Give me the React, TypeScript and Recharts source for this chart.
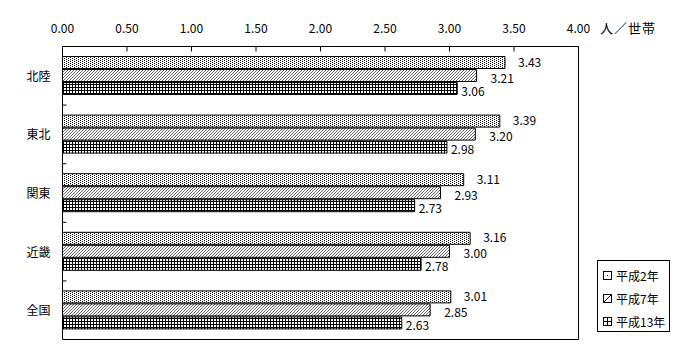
import React from 'react';
import {
  BarChart,
  Bar,
  XAxis,
  YAxis,
  ReferenceArea,
  LabelList,
} from 'recharts';

const regions = ['北陸', '東北', '関東', '近畿', '全国'];
const heisei2 = [3.43, 3.39, 3.11, 3.16, 3.01];
const heisei7 = [3.21, 3.2, 2.93, 3.0, 2.85];
const heisei13 = [3.06, 2.98, 2.73, 2.78, 2.63];
const xTicks = [0, 0.5, 1, 1.5, 2, 2.5, 3, 3.5, 4];
const unitLabel = '人／世帯';

const FONT = "'MS Gothic', 'Noto Sans CJK JP', sans-serif";

const series = [
  { key: 'h2', name: '平成2年', values: heisei2, fill: 'url(#patDots)', dx: 13, dy: 0 },
  { key: 'h7', name: '平成7年', values: heisei7, fill: 'url(#patHatch)', dx: 14, dy: 3 },
  { key: 'h13', name: '平成13年', values: heisei13, fill: 'url(#patGrid)', dx: 4, dy: 3 },
];

const data = regions.map((name, i) => ({
  name,
  h2: heisei2[i],
  h7: heisei7[i],
  h13: heisei13[i],
}));

// top axis: ticks point into the plot, labels above
const TopTick = ({ x, y, payload }: any) => (
  <g>
    <line x1={x} y1={y} x2={x} y2={y + 5} stroke="#000" />
    <text x={x} y={y - 14} textAnchor="middle" fontSize={12} fontFamily={FONT} fill="#000">
      {Number(payload.value).toFixed(2)}
    </text>
  </g>
);

// left axis: label at band centre, small tick at the band boundary
const LeftTick = ({ x, y, payload, index }: any) => {
  const half = payload.offset || 29.3;
  return (
    <g>
      {index > 0 && (
        <line x1={x} y1={y - half} x2={x + 4} y2={y - half} stroke="#000" />
      )}
      <text x={x - 12} y={y + 5} textAnchor="end" fontSize={12} fontFamily={FONT} fill="#000">
        {payload.value}
      </text>
    </g>
  );
};

const makeLabel = (dx: number, dy: number) => (props: any) => {
  const { x, y, width, height, value } = props;
  return (
    <text
      x={x + width + dx}
      y={y + height / 2 + dy + 4}
      fontSize={12}
      fontFamily={FONT}
      fill="#000"
    >
      {Number(value).toFixed(2)}
    </text>
  );
};

const LegendIcon = ({ k }: { k: string }) => (
  <svg width={9} height={9} style={{ marginRight: 4 }}>
    <rect x={0.5} y={0.5} width={8} height={8} fill="#fff" stroke="#000" />
    {k === 'h2' && <rect x={4} y={4} width={1} height={1} fill="#000" />}
    {k === 'h7' && <line x1={1} y1={8} x2={8} y2={1} stroke="#000" />}
    {k === 'h13' && (
      <>
        <line x1={4.5} y1={0.5} x2={4.5} y2={8.5} stroke="#000" />
        <line x1={0.5} y1={4.5} x2={8.5} y2={4.5} stroke="#000" />
      </>
    )}
  </svg>
);

export default function App() {
  return (
    <div
      style={{
        position: 'absolute',
        left: 0,
        top: 0,
        width: 700,
        height: 360,
        background: '#fff',
        fontFamily: FONT,
      }}
    >
      <BarChart
        width={700}
        height={360}
        data={data}
        layout="vertical"
        margin={{ top: 16.5, right: 121.5, bottom: 20.5, left: 2.5 }}
        barSize={12}
        barGap={1}
      >
        <defs>
          <pattern id="patDots" width={4} height={2} patternUnits="userSpaceOnUse">
            <rect width={4} height={2} fill="#fff" />
            <rect x={0} y={0} width={1} height={1} fill="#000" />
            <rect x={2} y={1} width={1} height={1} fill="#000" />
          </pattern>
          <pattern id="patHatch" width={3} height={3} patternUnits="userSpaceOnUse">
            <rect width={3} height={3} fill="#fff" />
            <path d="M0,3 L3,0 M-1,1 L1,-1 M2,4 L4,2" stroke="#000" strokeWidth={0.6} />
          </pattern>
          <pattern id="patGrid" width={3} height={3} patternUnits="userSpaceOnUse">
            <rect width={3} height={3} fill="#fff" />
            <rect x={0} y={0} width={3} height={1} fill="#000" />
            <rect x={0} y={0} width={1} height={3} fill="#000" />
          </pattern>
        </defs>
        <XAxis
          type="number"
          orientation="top"
          domain={[0, 4]}
          ticks={xTicks}
          height={30}
          axisLine={false}
          tickLine={false}
          tickSize={0}
          tickMargin={0}
          tick={<TopTick />}
          interval={0}
        />
        <YAxis
          type="category"
          dataKey="name"
          width={60}
          axisLine={false}
          tickLine={false}
          tickSize={0}
          tickMargin={0}
          tick={<LeftTick />}
          interval={0}
        />
        <ReferenceArea x1={0} x2={4} fill="none" stroke="#000" strokeWidth={1} ifOverflow="visible" />
        {series.map((s) => (
          <Bar
            key={s.key}
            dataKey={s.key}
            name={s.name}
            fill={s.fill}
            stroke="#000"
            strokeWidth={1}
            isAnimationActive={false}
          >
            <LabelList dataKey={s.key} content={makeLabel(s.dx, s.dy)} />
          </Bar>
        ))}
      </BarChart>
      <div
        style={{
          position: 'absolute',
          left: 600,
          top: 20,
          fontSize: 13,
          letterSpacing: 1,
          lineHeight: '15px',
        }}
      >
        {unitLabel}
      </div>
      <div
        style={{
          position: 'absolute',
          left: 597,
          top: 260,
          width: 73,
          height: 72,
          border: '1px solid #000',
          fontSize: 12,
          boxSizing: 'border-box',
          paddingLeft: 5,
          paddingTop: 3,
        }}
      >
        {series.map((s) => (
          <div
            key={s.key}
            style={{ display: 'flex', alignItems: 'center', height: 23, lineHeight: '14px' }}
          >
            <LegendIcon k={s.key} />
            <span>{s.name}</span>
          </div>
        ))}
      </div>
    </div>
  );
}
